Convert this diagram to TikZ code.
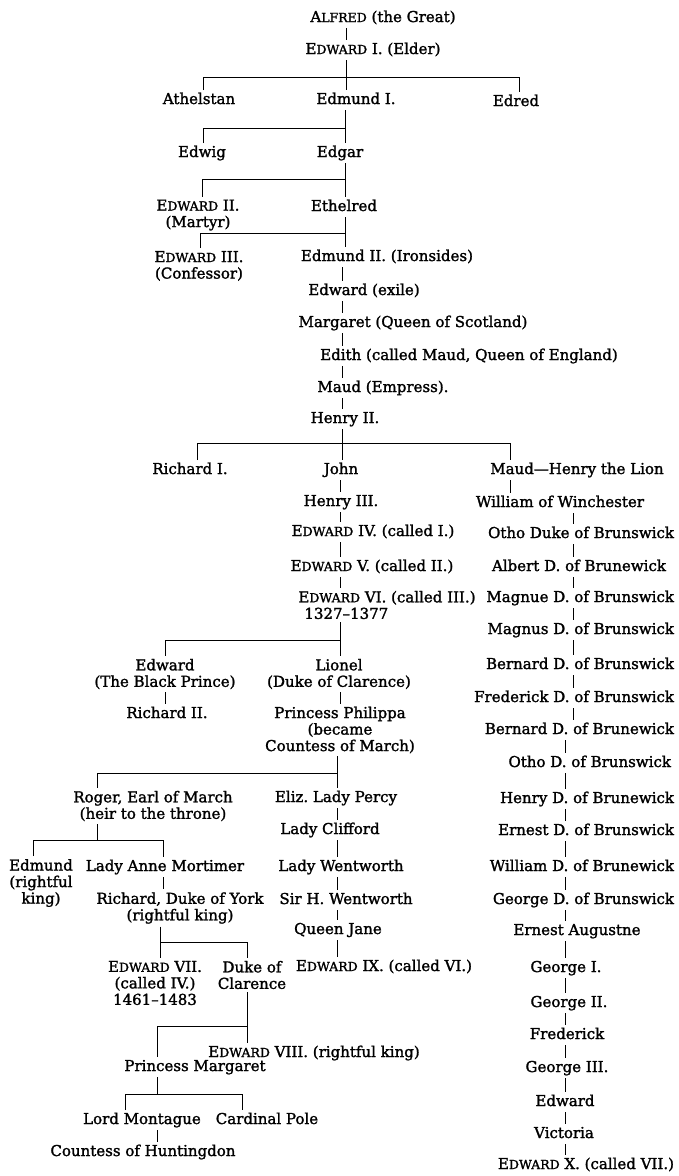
\documentclass[tikz,border=0pt]{standalone}
\usepackage{fontspec}
\setmainfont{DejaVu Serif}[FakeBold=1.6]
\frenchspacing
\newcommand\smc[1]{{\fontsize{12.5}{13}\selectfont #1}}
\newcommand\Edw{E\smc{DWARD}}
\tikzset{
    	every node/.append style={font=\fontsize{15}{16.5}\selectfont}}

\begin{document}
\begin{tikzpicture}
  [x=1pt,y=-1pt,line width=0.9pt,
  	every node/.append style={inner sep=0pt,outer sep=3pt},
  	kin/.style={text height=11pt,text depth=3pt},
  	rkin/.style={kin,anchor=east},
  	kins/.style={align=center}
  ]
  \useasboundingbox (0,0) rectangle (678,1176);
  \node [kin] (alfred) at (383,18) {A\smc{LFRED} (the Great)};
  \node [kin] (edw1) at (373,50) {\Edw{} I. (Elder)};
  \node [kin] (athelstan) at (199,100) {Athelstan};
  \node [kin] (edmund1) at (356,100) {Edmund I.};
  \node [kin] (edred) at (516,102) {Edred};
  \node [kin] (edwig) at (202,153) {Edwig};
  \node [kin] (edgar) at (340,153) {Edgar};
  \node [kins] (edw2) at (198,215) {\Edw{} II.\\(Martyr)};
  \node [kin] (ethelred) at (344,207) {Ethelred};
  \node [kins] (edw3) at (199,266) {\Edw{} III.\\(Confessor)};
  \node [kin] (edmund2) at (387,257) {Edmund II. (Ironsides)};
  \node [kin] (exile) at (364,291) {Edward (exile)};
  \node [kin] (margaret) at (413,323) {Margaret (Queen of Scotland)};
  \node [kin] (edith) at (469,356) {Edith (called Maud, Queen of England)};
  \node [kin] (empress) at (383,388) {Maud (Empress).};
  \node [kin] (henry2) at (345,419) {Henry II.};
  \node [kin] (richard1) at (190,470) {Richard I.};
  \node [kin] (john) at (341,470) {John};
  \node [kin] (maudhl) at (577,470) {Maud—Henry the Lion};
  \node [kin] (henry3) at (341,502) {Henry III.};
  \node [kin] (edw4) at (373,532) {\Edw{} IV. (called I.)};
  \node [kin] (edw5) at (372,567) {\Edw{} V. (called II.)};
  \node [kins,align=left] (edw6) at (387,605) {\Edw{} VI. (called III.)\\\hspace*{6pt}1327--1377};
  \node [kins] (blackpr) at (165,674) {Edward\\(The Black Prince)};
  \node [kins] (lionel) at (339,674) {Lionel\\(Duke of Clarence)};
  \node [kin] (richard2) at (167,714) {Richard II.};
  \node [kins] (philippa) at (340,730) {Princess Philippa\\(became\\Countess of March)};
  \node [kins] (roger) at (153,806) {Roger, Earl of March\\(heir to the throne)};
  \node [kin] (eliz) at (336,798) {Eliz. Lady Percy};
  \node [kin] (clifford) at (330,830) {Lady Clifford};
  \node [kins] (edmund) at (41,883) {Edmund\\(rightful\\king)};
  \node [kin] (anne) at (165,867) {Lady Anne Mortimer};
  \node [kin] (wentworth) at (341,867) {Lady Wentworth};
  \node [kins] (york) at (180,908) {Richard, Duke of York\\(rightful king)};
  \node [kin] (sirh) at (346,900) {Sir H. Wentworth};
  \node [kin] (jane) at (338,930) {Queen Jane};
  \node [kins] (edw7) at (155,983) {\Edw{} VII.\\(called IV.)\\1461--1483};
  \node [kins] (clarence) at (252,975) {Duke of\\Clarence};
  \node [kin] (edw9) at (384,967) {\Edw{} IX. (called VI.)};
  \node [kin] (edw8) at (314,1053) {\Edw{} VIII. (rightful king)};
  \node [kin] (princessm) at (195,1067) {Princess Margaret};
  \node [kin] (montague) at (142,1120) {Lord Montague};
  \node [kin] (pole) at (267,1120) {Cardinal Pole};
  \node [kin] (huntingdon) at (143,1152) {Countess of Huntingdon};
  % Brunswick line
  \node [kin] (william) at (560,503) {William of Winchester};
  \node [rkin] (otho1) at (677,534) {Otho Duke of Brunswick};
  \node [kin] (albert) at (579,567) {Albert D. of Brunewick};
  \node [rkin] (magnue) at (677,598) {Magnue D. of Brunswick};
  \node [rkin] (magnus) at (677,630) {Magnus D. of Brunswick};
  \node [rkin] (bernard1) at (677,665) {Bernard D. of Brunswick};
  \node [rkin] (frederick1) at (677,698) {Frederick D. of Brunswick};
  \node [rkin] (bernard2) at (677,730) {Bernard D. of Brunewick};
  \node [rkin] (otho2) at (674,763) {Otho D. of Brunswick};
  \node [rkin] (henryd) at (677,799) {Henry D. of Brunewick};
  \node [rkin] (ernestd) at (677,831) {Ernest D. of Brunswick};
  \node [rkin] (williamd) at (677,867) {William D. of Brunewick};
  \node [rkin] (georged) at (677,900) {George D. of Brunswick};
  \node [kin] (ernesta) at (577,931) {Ernest Augustne};
  \node [kin] (george1) at (566,968) {George I.};
  \node [kin] (george2) at (569,1003) {George II.};
  \node [kin] (fred) at (567,1035) {Frederick};
  \node [kin] (george3) at (567,1068) {George III.};
  \node [kin] (edwardv) at (565,1102) {Edward};
  \node [kin] (victoria) at (564,1134) {Victoria};
  \node [rkin] (edw10) at (677,1165) {\Edw{} X. (called VII.)};

  \coordinate (b1s) at (346,77);
  \coordinate (b1l) at (203,77);
  \coordinate (b1r) at (519,77);
  \coordinate (b2s) at (345,128);
  \coordinate (b2l) at (203,128);
  \coordinate (b3s) at (345,179);
  \coordinate (b3l) at (202,179);
  \coordinate (b4s) at (345,233);
  \coordinate (b4l) at (200,233);
  \coordinate (b5s) at (342,443);
  \coordinate (b5l) at (197,443);
  \coordinate (b5r) at (510,443);
  \coordinate (b6s) at (340,640);
  \coordinate (b6l) at (165,640);
  \coordinate (b7s) at (337,773);
  \coordinate (b7l) at (97,773);
  \coordinate (b8s) at (97,840);
  \coordinate (b8l) at (33,840);
  \coordinate (b8r) at (163,840);
  \coordinate (b9s) at (160,942);
  \coordinate (b9r) at (247,942);
  \coordinate (b10s) at (247,1026);
  \coordinate (b10l) at (157,1026);
  \coordinate (b11s) at (157,1094);
  \coordinate (b11l) at (125,1094);
  \coordinate (b11r) at (242,1094);
  \coordinate (rs1) at (573,0);
  \coordinate (rs2) at (565,0);

  \draw (alfred.south -| b1s) -- (edw1.north -| b1s);
  \draw (edw1.south -| b1s) -- (edmund1.north -| b1s);
  \draw (athelstan.north -| b1l) -- (b1l) -- (b1r) -- (edred.north -| b1r);
  \draw (edmund1.south -| b2s) -- (edgar.north -| b2s);
  \draw (edwig.north -| b2l) -- (b2l) -- (b2s);
  \draw (edgar.south -| b3s) -- (ethelred.north -| b3s);
  \draw (edw2.north -| b3l) -- (b3l) -- (b3s);
  \draw (ethelred.south -| b4s) -- (edmund2.north -| b4s);
  \draw (edw3.north -| b4l) -- (b4l) -- (b4s);

  \foreach \from/\to in {edmund2/exile,exile/margaret,margaret/edith,edith/empress,empress/henry2,henry2/john}
    \draw (\from.south -| b5s) -- (\to.north -| b5s);
  \draw (richard1.north -| b5l) -- (b5l) -- (b5r) -- (maudhl.north -| b5r);
  \draw (maudhl.south -| b5r) -- (william.north -| b5r);

  \foreach \from/\to in {john/henry3,henry3/edw4,edw4/edw5,edw5/edw6,edw6/lionel,lionel/philippa}
    \draw (\from.south -| b6s) -- (\to.north -| b6s);
  \draw (blackpr.north -| b6l) -- (b6l) -- (b6s);
  \draw (blackpr.south -| b6l) -- (richard2.north -| b6l);

  \foreach \from/\to in {philippa/eliz,eliz/clifford,clifford/wentworth,wentworth/sirh,sirh/jane,jane/edw9}
    \draw (\from.south -| b7s) -- (\to.north -| b7s);
  \draw (roger.north -| b7l) -- (b7l) -- (b7s);
  \draw (roger.south -| b8s) -- (b8s);
  \draw (edmund.north -| b8l) -- (b8l) -- (b8r) -- (anne.north -| b8r);
  \draw (anne.south -| b8r) -- (york.north -| b8r);
  \draw (york.south -| b9s) -- (edw7.north -| b9s);
  \draw (b9s) -- (b9r) -- (clarence.north -| b9r);
  \draw (clarence.south -| b10s) -- (edw8.north -| b10s);
  \draw (b10s) -- (b10l) -- (princessm.north -| b10l);
  \draw (princessm.south -| b11s) -- (b11s);
  \draw (montague.north -| b11l) -- (b11l) -- (b11r) -- (pole.north -| b11r);
  \draw (montague.south -| b11s) -- (huntingdon.north -| b11s);

  \foreach \from/\to in {william/otho1,otho1/albert,albert/magnue,magnue/magnus,magnus/bernard1,bernard1/frederick1,frederick1/bernard2}
    \draw (\from.south -| rs1) -- (\to.north -| rs1);
  \foreach \from/\to in {bernard2/otho2,otho2/henryd,henryd/ernestd,ernestd/williamd,williamd/georged,georged/ernesta,ernesta/george1,george1/george2,george2/fred,fred/george3,george3/edwardv,edwardv/victoria,victoria/edw10}
    \draw (\from.south -| rs2) -- (\to.north -| rs2);
\end{tikzpicture}
\end{document}
